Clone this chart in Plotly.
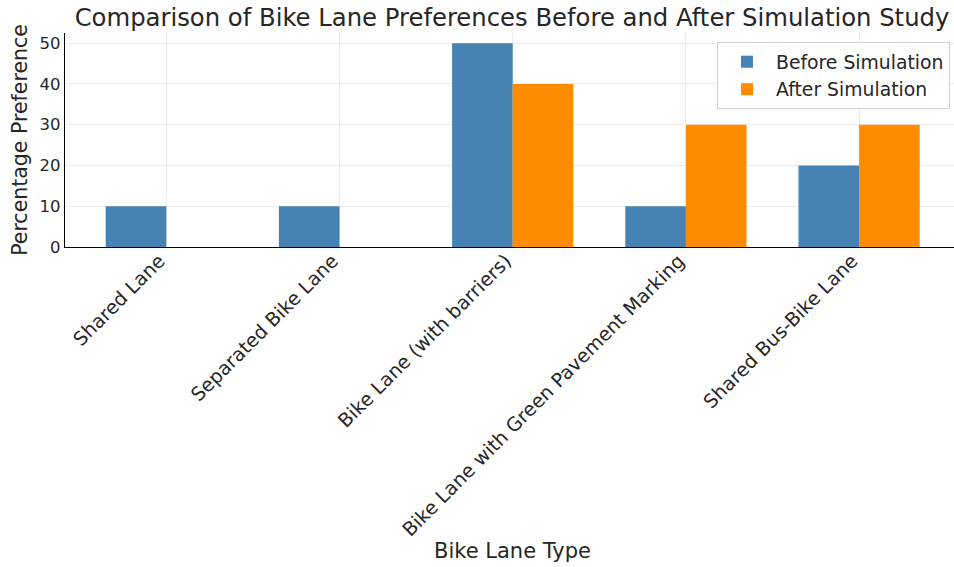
import plotly.graph_objects as go

lane_types = [
    "Shared Lane",
    "Separated Bike Lane",
    "Bike Lane (with barriers)",
    "Bike Lane with Green Pavement Marking",
    "Shared Bus-Bike Lane",
]
before_pct = [10, 10, 50, 10, 20]
after_pct = [0, 0, 40, 30, 30]
y_ticks = [0, 10, 20, 30, 40, 50]

FONT = "DejaVu Sans"
TEXT = "#262626"

fig = go.Figure()
fig.add_trace(go.Bar(x=lane_types, y=before_pct, name="Before Simulation",
                     marker=dict(color="#4682B4", line=dict(width=0))))
fig.add_trace(go.Bar(x=lane_types, y=after_pct, name="After Simulation",
                     marker=dict(color="#FF8C00", line=dict(width=0))))

fig.update_layout(
    width=954, height=567,
    margin=dict(l=65, r=0, t=33, b=320),
    paper_bgcolor="white", plot_bgcolor="white",
    barmode="group", bargap=0.3, bargroupgap=0,
    font=dict(family=FONT, color=TEXT, size=16),
    title=dict(text="Comparison of Bike Lane Preferences Before and After Simulation Study",
               x=512 / 954, xref="container", xanchor="center",
               y=1 - 17 / 567, yref="container", yanchor="middle",
               font=dict(size=24.3, color=TEXT)),
    legend=dict(x=0.9955, xanchor="right", y=0.958, yanchor="top",
                bgcolor="white", bordercolor="#d0d0d0", borderwidth=1,
                font=dict(size=18.8, color=TEXT), itemwidth=48),
    showlegend=True,
    annotations=[
        dict(text="Bike Lane Type", xref="paper", yref="paper",
             x=(512 - 65) / 889, y=(247 - 551) / 214,
             xanchor="center", yanchor="middle", showarrow=False,
             font=dict(size=21, color=TEXT)),
    ],
)

fig.update_xaxes(
    range=[-0.585, 4.548],
    tickangle=-45,
    automargin=False,
    ticklabelstandoff=-6,
    ticklabelshift=-7,
    showgrid=True, gridcolor="#ececec", gridwidth=1,
    showline=True, linecolor="black", linewidth=1.2,
    ticks="", tickfont=dict(size=19.2, color=TEXT),
)
fig.update_yaxes(
    range=[0, 52.5],
    tickvals=y_ticks,
    automargin=False,
    showgrid=True, gridcolor="#ececec", gridwidth=1,
    showline=True, linecolor="black", linewidth=1.2,
    zeroline=False,
    ticks="", tickfont=dict(size=16.5, color=TEXT),
    title=dict(text="Percentage Preference", font=dict(size=20.5, color=TEXT), standoff=6),
)

fig.write_html("out.html")
